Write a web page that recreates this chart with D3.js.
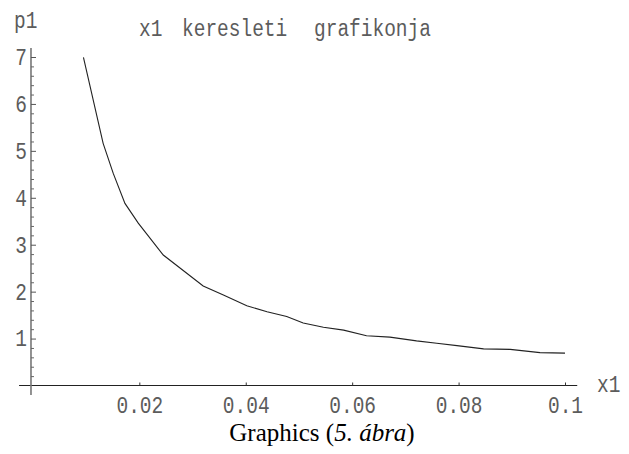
<!DOCTYPE html>
<html><head><meta charset="utf-8">
<script src="https://cdn.jsdelivr.net/npm/d3@7"></script>
<style>body{margin:0;background:#fff} svg{display:block}</style>
</head><body><svg id="c" width="629" height="454"></svg>
<script>
// ---- data ----
const xValues = [0.0095, 0.0132, 0.0151, 0.0173, 0.0198, 0.0245, 0.0320, 0.0358, 0.0402, 0.0440,
                 0.0477, 0.0508, 0.0546, 0.0584, 0.0627, 0.0671, 0.0721, 0.0759, 0.0797, 0.0847,
                 0.0897, 0.0953, 0.1000];
const pValues = [6.99, 5.16, 4.52, 3.88, 3.46, 2.78, 2.12, 1.93, 1.70, 1.57,
                 1.47, 1.33, 1.24, 1.18, 1.06, 1.03, 0.95, 0.90, 0.85, 0.78,
                 0.77, 0.70, 0.69];
const xTicks = [0.02, 0.04, 0.06, 0.08, 0.1];
const xTickLabels = ["0.02", "0.04", "0.06", "0.08", "0.1"];
const yTicks = [1, 2, 3, 4, 5, 6, 7];
const yTickLabels = ["1", "2", "3", "4", "5", "6", "7"];
const yMinorTicks = [0.2,0.4,0.6,0.8,1.2,1.4,1.6,1.8,2.2,2.4,2.6,2.8,3.2,3.4,3.6,3.8,
                     4.2,4.4,4.6,4.8,5.2,5.4,5.6,5.8,6.2,6.4,6.6,6.8];
const titleWords = ["x1", "keresleti", "grafikonja"];
const xLabel = "x1";
const yLabel = "p1";

// ---- layout ----
const svg = d3.select("#c");
const x = d3.scaleLinear().domain([0, 0.1]).range([32.9, 565]);
const y = d3.scaleLinear().domain([0, 7]).range([385.5, 57]);
const mono = "'Liberation Mono', 'DejaVu Sans Mono', monospace";
const textCol = "#5c5c5c";
const fs = 19.5;
const vs = 1.18;  // vertical stretch of the reference lettering

function stretch(cx, cy) {
  return `translate(${cx},${cy}) scale(1,${vs}) translate(${-cx},${-cy})`;
}

const yAxisAt = x(-0.00036);   // vertical axis position
const xAxisAt = y(0);

// axis lines
svg.append("line")
  .attr("x1", x(-0.0026)).attr("x2", x(0.1023))
  .attr("y1", xAxisAt).attr("y2", xAxisAt)
  .attr("stroke", "#222").attr("stroke-width", 1);
svg.append("line")
  .attr("x1", yAxisAt).attr("x2", yAxisAt)
  .attr("y1", y(7.19)).attr("y2", y(-0.2))
  .attr("stroke", "#777").attr("stroke-width", 1.6);

// x axis ticks + labels
const gx = svg.append("g").attr("transform", `translate(0,${xAxisAt})`)
  .call(d3.axisBottom(x).tickValues(xTicks).tickSize(-3).tickPadding(13)
        .tickFormat((d, i) => xTickLabels[i]));
gx.select(".domain").remove();
gx.selectAll(".tick line").attr("stroke", "#333");
gx.selectAll(".tick text").attr("font-family", mono).attr("font-size", fs).attr("fill", textCol)
  .attr("transform", stretch(0, 21));

// y axis major ticks + labels
const gy = svg.append("g").attr("transform", `translate(${yAxisAt},0)`)
  .call(d3.axisLeft(y).tickValues(yTicks).tickSize(-5).tickPadding(4)
        .tickFormat((d, i) => yTickLabels[i]));
gy.select(".domain").remove();
gy.selectAll(".tick line").attr("stroke", "#555");
gy.selectAll(".tick text").attr("font-family", mono).attr("font-size", fs).attr("fill", textCol)
  .attr("transform", stretch(0, 0));

// y minor ticks
const gym = svg.append("g").attr("transform", `translate(${yAxisAt},0)`)
  .call(d3.axisLeft(y).tickValues(yMinorTicks).tickSize(-3).tickFormat(""));
gym.select(".domain").remove();
gym.selectAll(".tick line").attr("stroke", "#666");

// curve
const pts = xValues.map((v, i) => [v, pValues[i]]);
svg.append("path")
  .datum(pts)
  .attr("d", d3.line().x(d => x(d[0])).y(d => y(d[1])))
  .attr("fill", "none").attr("stroke", "#222").attr("stroke-width", 1.1);

// axis labels
svg.append("text").text(yLabel)
  .attr("x", 14).attr("y", 27)
  .attr("transform", stretch(0, 21))
  .attr("font-family", mono).attr("font-size", fs).attr("fill", textCol);
svg.append("text").text(xLabel)
  .attr("x", 597).attr("y", 391)
  .attr("transform", stretch(0, 384))
  .attr("font-family", mono).attr("font-size", fs).attr("fill", textCol);

// title
const titleX = [139, 182, 314];
const t = svg.append("text").attr("y", 35)
  .attr("transform", stretch(0, 28))
  .attr("font-family", mono).attr("font-size", fs).attr("fill", textCol);
titleWords.forEach((w, i) => t.append("tspan").attr("x", titleX[i]).text(w));

// caption
const cap = svg.append("text").attr("x", 322).attr("y", 441)
  .attr("text-anchor", "middle")
  .attr("font-family", "'Liberation Serif', 'Times New Roman', serif")
  .attr("font-size", 25).attr("fill", "#000");
cap.append("tspan").text("Graphics (");
cap.append("tspan").attr("font-style", "italic").text("5. ábra");
cap.append("tspan").text(")");
</script>
</body></html>
